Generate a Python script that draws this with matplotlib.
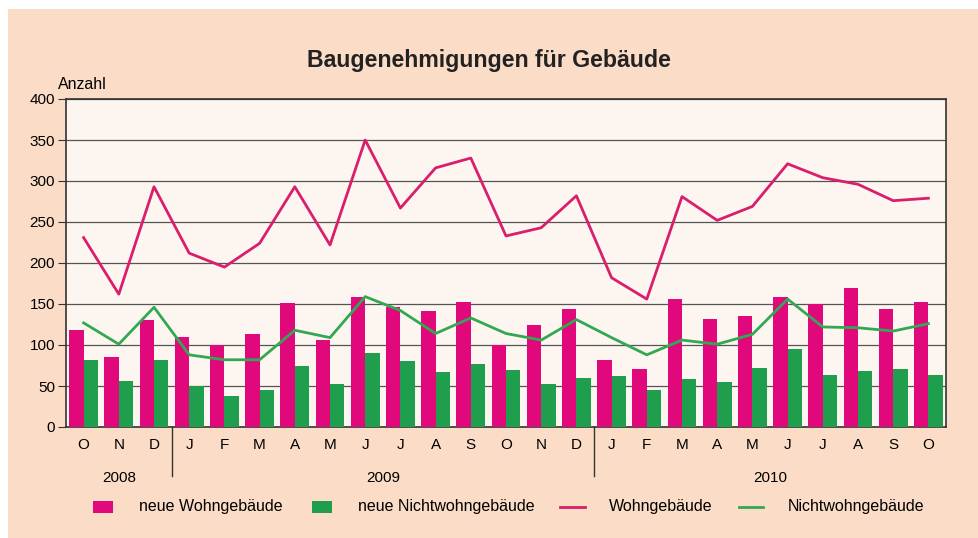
"""
Baugenehmigungen fuer Gebaeude - monthly bars and lines, Oct 2008 to Oct 2010.
"""

import numpy as np
import matplotlib
matplotlib.use("Agg")
import matplotlib.pyplot as plt
from matplotlib.patches import Rectangle
from matplotlib.lines import Line2D

plt.rcParams['font.family'] = ['Liberation Sans', 'DejaVu Sans']

# data
months = ["O", "N", "D",
          "J", "F", "M", "A", "M", "J", "J", "A", "S", "O", "N", "D",
          "J", "F", "M", "A", "M", "J", "J", "A", "S", "O"]
years = ["2008", "2009", "2010"]
months_per_year = [3, 12, 10]

neue_wohn = [118, 85, 131,
             110, 100, 114, 151, 106, 158, 146, 141, 153, 100, 125, 144,
             82, 71, 156, 132, 135, 158, 150, 170, 144, 153]
neue_nichtwohn = [82, 56, 82,
                  50, 38, 45, 75, 52, 90, 80, 67, 77, 69, 53, 60,
                  62, 45, 58, 55, 72, 95, 64, 68, 71, 64]
wohn = [231, 162, 293,
        212, 195, 224, 293, 222, 350, 267, 316, 328, 233, 243, 282,
        182, 156, 281, 252, 269, 321, 304, 296, 276, 279]
nichtwohn = [127, 101, 146,
             88, 82, 82, 118, 109, 159, 142, 114, 133, 114, 106, 131,
             109, 88, 106, 101, 113, 156, 122, 121, 117, 126]

PINK = "#e0087a"
PINK_LINE = "#d91e6c"
GREEN = "#1f9e4e"
GREEN_LINE = "#33a852"
BG = "#fbdcc6"

W, H = 979, 538
fig = plt.figure(figsize=(W / 100, H / 100), dpi=100)
fig.patch.set_facecolor("white")
# peach panel, small white margin on top and left
fig.patches.append(Rectangle((8 / W, 0), 1 - 8 / W, 1 - 9 / H,
                             transform=fig.transFigure, facecolor=BG,
                             edgecolor="none", zorder=-10))

ax = fig.add_axes([66 / W, 1 - 427 / H, 880 / W, 328 / H])
ax.set_facecolor("#fdf6f0")

x = np.arange(len(months))
bw = 0.41
ax.bar(x - bw / 2, neue_wohn, bw, color=PINK, zorder=3)
ax.bar(x + bw / 2, neue_nichtwohn, bw, color=GREEN, zorder=3)
ax.plot(x, wohn, color=PINK_LINE, lw=2, zorder=4)
ax.plot(x, nichtwohn, color=GREEN_LINE, lw=2, zorder=4)

ax.set_xlim(-0.5, len(months) - 0.5)
ax.set_ylim(0, 400)
ax.set_yticks(np.arange(0, 401, 50))
ax.yaxis.grid(True, color="#555555", lw=0.9, zorder=1)
ax.set_axisbelow(True)
ax.tick_params(axis="y", labelsize=11, length=6, color="#333333", pad=2)
ax.set_xticks(x)
ax.set_xticklabels(months)
ax.tick_params(axis="x", labelsize=11, length=0, pad=8)
for s in ax.spines.values():
    s.set_color("#333333")
    s.set_linewidth(1.2)

# year separators and labels below the axis
trans = ax.get_xaxis_transform()
start = 0
for i, (yr, n) in enumerate(zip(years, months_per_year)):
    if i > 0:
        ax.plot([start - 0.5, start - 0.5], [0, -0.15], color="#333333",
                lw=1, transform=trans, clip_on=False)
    ax.text(start + (n - 1) / 2, -0.157, yr, transform=trans,
            ha="center", va="center", fontsize=11)
    start += n

fig.text(489 / W, 1 - 60 / H, "Baugenehmigungen für Gebäude",
         ha="center", va="center", fontsize=16.7, fontweight="bold",
         color="#222222")
fig.text(58 / W, 1 - 84 / H, "Anzahl", ha="left", va="center", fontsize=11.5)

# legend drawn by hand along the bottom
ly = 1 - 507 / H
fig.patches.append(Rectangle((93 / W, ly - 6 / H), 20 / W, 12 / H,
                             transform=fig.transFigure, facecolor=PINK))
fig.text(139 / W, ly, "neue Wohngebäude", va="center", fontsize=11.5)
fig.patches.append(Rectangle((312 / W, ly - 6 / H), 20 / W, 12 / H,
                             transform=fig.transFigure, facecolor=GREEN))
fig.text(358 / W, ly, "neue Nichtwohngebäude", va="center", fontsize=11.5)
fig.lines.append(Line2D([560 / W, 585 / W], [ly, ly], color=PINK_LINE, lw=2,
                        transform=fig.transFigure))
fig.text(609 / W, ly, "Wohngebäude", va="center", fontsize=11.5)
fig.lines.append(Line2D([739 / W, 763 / W], [ly, ly], color=GREEN_LINE, lw=2,
                        transform=fig.transFigure))
fig.text(788 / W, ly, "Nichtwohngebäude", va="center", fontsize=11.5)

fig.savefig("out.png", dpi=100, facecolor=fig.get_facecolor())
